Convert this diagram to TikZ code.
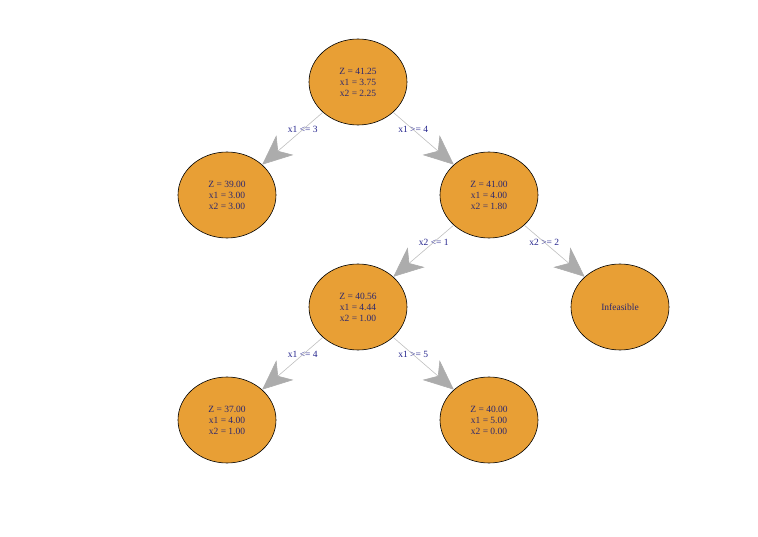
\documentclass[tikz,border=0pt]{standalone}
\usepackage{fontspec}
\setmainfont{Liberation Serif}
\usetikzlibrary{arrows.meta, shapes.geometric}

\definecolor{bbfill}{HTML}{E89F35}
\definecolor{bbtext}{RGB}{45,40,110}
\definecolor{bblabel}{RGB}{35,35,140}

\begin{document}
\begin{tikzpicture}[
    x=1pt, y=-1pt,
    bnode/.style={ellipse, draw=black, line width=0.6pt, fill=bbfill, text=bbtext,
        minimum width=98pt, minimum height=86pt, inner sep=0pt, align=center,
        font=\fontsize{9.5}{11}\selectfont},
    arr/.style={draw=gray!50, line width=0.6pt,
        -{Stealth[length=30pt, width=26pt, inset=9pt, color=gray!65, fill=gray!65]}},
    elabel/.style={font=\fontsize{9.5}{11}\selectfont, text=bblabel, pos=0.33, inner sep=0pt},
]
\useasboundingbox (0,0) rectangle (758,537);

% ============ Branch and bound tree ============
\node[bnode] (root) at (358, 82) {Z = 41.25\\x1 = 3.75\\x2 = 2.25};

\node[bnode] (l) at (227, 195) {Z = 39.00\\x1 = 3.00\\x2 = 3.00};
\node[bnode] (r) at (489, 195) {Z = 41.00\\x1 = 4.00\\x2 = 1.80};

\node[bnode] (rl) at (358, 307) {Z = 40.56\\x1 = 4.44\\x2 = 1.00};
\node[bnode] (rr) at (620, 307) {Infeasible};

\node[bnode] (rll) at (227, 420) {Z = 37.00\\x1 = 4.00\\x2 = 1.00};
\node[bnode] (rlr) at (489, 420) {Z = 40.00\\x1 = 5.00\\x2 = 0.00};

% Branches
\draw[arr] (root) -- node[elabel] {x1 <= 3} (l);
\draw[arr] (root) -- node[elabel] {x1 >= 4} (r);
\draw[arr] (r) -- node[elabel] {x2 <= 1} (rl);
\draw[arr] (r) -- node[elabel] {x2 >= 2} (rr);
\draw[arr] (rl) -- node[elabel] {x1 <= 4} (rll);
\draw[arr] (rl) -- node[elabel] {x1 >= 5} (rlr);

\end{tikzpicture}
\end{document}
